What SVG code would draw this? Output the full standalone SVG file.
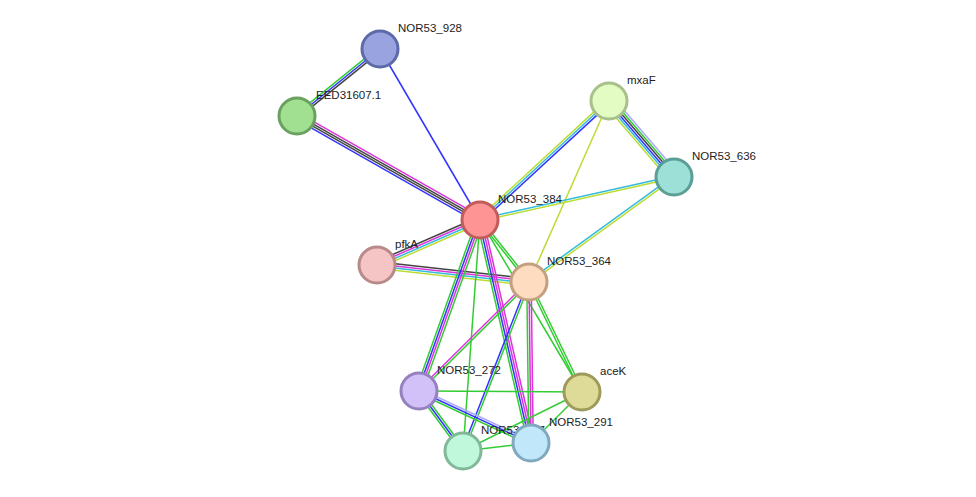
<svg xmlns="http://www.w3.org/2000/svg" xmlns:xlink="http://www.w3.org/1999/xlink" width="976" height="497" viewBox="0 0 976 497">
<style>
.e use, .e line{stroke-width:1.5;fill:none}
.n circle{stroke-width:3}
.n text{font-family:"Liberation Sans",Arial,sans-serif;font-size:11.5px;fill:#222}
</style>
<defs>
<line id="a1" x1="380" y1="49" x2="297" y2="116"/>
<line id="a3" x1="297" y1="116" x2="480" y2="220"/>
<line id="a4" x1="609" y1="101" x2="480" y2="220"/>
<line id="a6" x1="609" y1="101" x2="674" y2="177"/>
<line id="a7" x1="674" y1="177" x2="480" y2="220"/>
<line id="a8" x1="674" y1="177" x2="529" y2="282"/>
<line id="a9" x1="480" y1="220" x2="377" y2="265"/>
<line id="a10" x1="377" y1="265" x2="529" y2="282"/>
<line id="a11" x1="480" y1="220" x2="529" y2="282"/>
<line id="a12" x1="480" y1="220" x2="419" y2="391"/>
<line id="a14" x1="480" y1="220" x2="531" y2="443"/>
<line id="a16" x1="529" y1="282" x2="419" y2="391"/>
<line id="a17" x1="529" y1="282" x2="463" y2="451"/>
<line id="a18" x1="529" y1="282" x2="531" y2="443"/>
<line id="a19" x1="529" y1="282" x2="582" y2="392"/>
<line id="a21" x1="419" y1="391" x2="463" y2="451"/>
<line id="a22" x1="419" y1="391" x2="531" y2="443"/>
</defs>
<rect width="976" height="497" fill="#fff"/>
<g id="connectors" class="e">
<use href="#a1" stroke="#3c3" transform="translate(-1.4,-1.7)"/>
<use href="#a1" stroke="#33f" transform="translate(0,0)"/>
<use href="#a1" stroke="#444" transform="translate(1.4,1.7)"/>
<line x1="380" y1="49" x2="480" y2="220" stroke="#33f"/>
<use href="#a3" stroke="#d3d" transform="translate(1.65,-2.87)"/>
<use href="#a3" stroke="#444" transform="translate(0.55,-0.96)"/>
<use href="#a3" stroke="#444" transform="translate(-0.55,0.96)"/>
<use href="#a3" stroke="#33f" transform="translate(-1.65,2.87)"/>
<use href="#a4" stroke="#bd3" transform="translate(-1.5,-1.6)"/>
<use href="#a4" stroke="#3bd" transform="translate(0,0)"/>
<use href="#a4" stroke="#33f" transform="translate(1.5,1.6)"/>
<line x1="609" y1="101" x2="529" y2="282" stroke="#bd3"/>
<use href="#a6" stroke="#bd3" transform="translate(-4.2,3.6)"/>
<use href="#a6" stroke="#3bd" transform="translate(-2.5,2.1)"/>
<use href="#a6" stroke="#33f" transform="translate(-0.84,0.72)"/>
<use href="#a6" stroke="#444" transform="translate(0.84,-0.72)"/>
<use href="#a6" stroke="#3c3" transform="translate(2.5,-2.1)"/>
<use href="#a6" stroke="#aaf" transform="translate(4.2,-3.6)"/>
<use href="#a7" stroke="#3bd" transform="translate(-0.24,-1.08)"/>
<use href="#a7" stroke="#bd3" transform="translate(0.24,1.08)"/>
<use href="#a8" stroke="#3bd" transform="translate(-0.65,-0.89)"/>
<use href="#a8" stroke="#bd3" transform="translate(0.65,0.89)"/>
<use href="#a9" stroke="#444" transform="translate(-1.32,-3.04)"/>
<use href="#a9" stroke="#d3d" transform="translate(-0.44,-1.01)"/>
<use href="#a9" stroke="#3bd" transform="translate(0.44,1.01)"/>
<use href="#a9" stroke="#bd3" transform="translate(1.32,3.04)"/>
<use href="#a10" stroke="#444" transform="translate(0.36,-3.27)"/>
<use href="#a10" stroke="#d3d" transform="translate(0.12,-1.09)"/>
<use href="#a10" stroke="#3bd" transform="translate(-0.12,1.09)"/>
<use href="#a10" stroke="#bd3" transform="translate(-0.36,3.27)"/>
<use href="#a11" stroke="#3c3" transform="translate(0.86,-0.68)"/>
<use href="#a11" stroke="#3c3" transform="translate(-0.86,0.68)"/>
<use href="#a12" stroke="#3c3" transform="translate(-3.1,-1.12)"/>
<use href="#a12" stroke="#33f" transform="translate(-1.03,-0.37)"/>
<use href="#a12" stroke="#d3d" transform="translate(1.03,0.37)"/>
<use href="#a12" stroke="#3c3" transform="translate(3.1,1.12)"/>
<line x1="480" y1="220" x2="463" y2="451" stroke="#3c3"/>
<use href="#a14" stroke="#3c3" transform="translate(-3.2,0.73)"/>
<use href="#a14" stroke="#33f" transform="translate(-1.07,0.24)"/>
<use href="#a14" stroke="#d3d" transform="translate(1.07,-0.24)"/>
<use href="#a14" stroke="#d3d" transform="translate(3.2,-0.73)"/>
<line x1="480" y1="220" x2="582" y2="392" stroke="#3c3"/>
<use href="#a16" stroke="#d3d" transform="translate(-0.77,-0.77)"/>
<use href="#a16" stroke="#3c3" transform="translate(0.77,0.77)"/>
<use href="#a17" stroke="#33f" transform="translate(-1.02,-0.4)"/>
<use href="#a17" stroke="#3c3" transform="translate(1.02,0.4)"/>
<use href="#a18" stroke="#3c3" transform="translate(-2.2,0)"/>
<use href="#a18" stroke="#d3d" transform="translate(0,0)"/>
<use href="#a18" stroke="#d3d" transform="translate(2.2,0)"/>
<use href="#a19" stroke="#3c3" transform="translate(1,-0.47)"/>
<use href="#a19" stroke="#3c3" transform="translate(-1,0.47)"/>
<line x1="419" y1="391" x2="582" y2="392" stroke="#3c3"/>
<use href="#a21" stroke="#3c3" transform="translate(-1.78,1.3)"/>
<use href="#a21" stroke="#33f" transform="translate(0,0)"/>
<use href="#a21" stroke="#3c3" transform="translate(1.78,-1.3)"/>
<use href="#a22" stroke="#aaf" transform="translate(0.92,-2)"/>
<use href="#a22" stroke="#33f" transform="translate(0,0)"/>
<use href="#a22" stroke="#3c3" transform="translate(-0.92,2)"/>
<line x1="463" y1="451" x2="531" y2="443" stroke="#3c3"/>
<line x1="463" y1="451" x2="582" y2="392" stroke="#3c3"/>
<line x1="531" y1="443" x2="582" y2="392" stroke="#3c3"/>
</g>
<g id="n928" class="n"><circle cx="380" cy="49" r="18" fill="#99a3e0" stroke="#5d6aa8"/><text x="398" y="32">NOR53_928</text></g>
<g id="nEED" class="n"><circle cx="297" cy="116" r="18" fill="#a0e090" stroke="#6aa060"/><text x="316" y="99">EED31607.1</text></g>
<g id="nmxaF" class="n"><circle cx="609" cy="101" r="18" fill="#e2fcc4" stroke="#a8c08a"/><text x="627" y="84">mxaF</text></g>
<g id="n636" class="n"><circle cx="674" cy="177" r="18" fill="#9ce0d8" stroke="#5a9e96"/><text x="692" y="160">NOR53_636</text></g>
<g id="n384" class="n"><circle cx="480" cy="220" r="18" fill="#ff9494" stroke="#c25b5b"/><text x="498" y="203">NOR53_384</text></g>
<g id="npfkA" class="n"><circle cx="377" cy="265" r="18" fill="#f5c4c4" stroke="#b88a8a"/><text x="395" y="248">pfkA</text></g>
<g id="n364" class="n"><circle cx="529" cy="282" r="18" fill="#fddcc0" stroke="#c4a080"/><text x="547" y="265">NOR53_364</text></g>
<g id="n272" class="n"><circle cx="419" cy="391" r="18" fill="#d2c0f8" stroke="#9580c0"/><text x="437" y="374">NOR53_272</text></g>
<g id="naceK" class="n"><circle cx="582" cy="392" r="18" fill="#deda98" stroke="#9e9a5a"/><text x="600" y="375">aceK</text></g>
<g id="n287" class="n"><circle cx="463" cy="451" r="18" fill="#bff8da" stroke="#80b898"/><text x="481" y="434">NOR53_287</text></g>
<g id="n291" class="n"><circle cx="531" cy="443" r="18" fill="#c0e8fa" stroke="#80a8be"/><text x="549" y="426">NOR53_291</text></g>
</svg>
